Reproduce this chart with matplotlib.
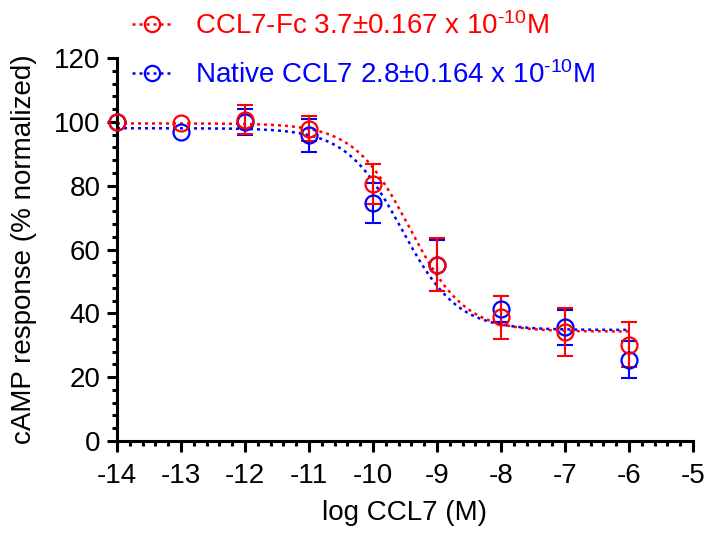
import numpy as np
import matplotlib
matplotlib.use("Agg")
import matplotlib.pyplot as plt
from matplotlib.ticker import AutoMinorLocator

plt.rcParams['font.family'] = ['Liberation Sans', 'DejaVu Sans']
plt.rcParams['mathtext.fontset'] = 'custom'
plt.rcParams['mathtext.rm'] = 'Liberation Sans'
plt.rcParams['mathtext.it'] = 'Liberation Sans:italic'
plt.rcParams['mathtext.bf'] = 'Liberation Sans:bold'
plt.rcParams['axes.unicode_minus'] = False

log_conc = [-14, -13, -12, -11, -10, -9, -8, -7, -6]

fc_mean = [100.0, 99.6, 100.7, 97.9, 80.6, 55.3, 38.7, 34.2, 30.2]
fc_err = [0, 0, 4.5, 3.8, 6.2, 8.4, 6.8, 7.6, 7.1]

nat_mean = [100.0, 96.9, 100.0, 95.8, 74.6, 55.0, 41.4, 35.6, 25.4]
nat_err = [0, 0, 4.0, 5.2, 6.2, 8.0, 4.0, 5.6, 5.8]

# fitted 4PL parameters (top, bottom, logEC50, hill)
fc_fit = dict(top=99.5, bottom=34.3, logec50=np.log10(3.7e-10), hill=1.0)
nat_fit = dict(top=98.0, bottom=34.8, logec50=np.log10(2.8e-10), hill=1.0)

fc_label = r'CCL7-Fc 3.7±0.167 x 10$^{\text{-10}}$M'
nat_label = r'Native CCL7 2.8±0.164 x 10$^{\text{-10}}$M'

xticks = [-14, -13, -12, -11, -10, -9, -8, -7, -6, -5]
yticks = [0, 20, 40, 60, 80, 100, 120]


def four_pl(x, top, bottom, logec50, hill):
    return bottom + (top - bottom) / (1 + 10 ** ((x - logec50) * hill))


fig = plt.figure(figsize=(7.06, 5.33), dpi=100)
ax = fig.add_axes([117 / 706, 1 - 441 / 533, (693 - 117) / 706, (441 - 58) / 533])

xs = np.linspace(-14, -6, 400)
lw_err = 1.5
ls_fit = (0, (1.2, 1.6))
handles = {}
for mean, err, fit, color, key in [
    (nat_mean, nat_err, nat_fit, 'blue', 'nat'),
    (fc_mean, fc_err, fc_fit, 'red', 'fc'),
]:
    x = np.array(log_conc, dtype=float)
    m = np.array(mean)
    e = np.array(err)
    sel = e > 0
    ax.errorbar(x[sel], m[sel], yerr=e[sel], fmt='none', ecolor=color,
                elinewidth=lw_err, capsize=5.6, capthick=lw_err, clip_on=False, zorder=3)
    ax.plot(xs, four_pl(xs, **fit), color=color, lw=1.8, linestyle=ls_fit, zorder=2)
    ax.plot(x, m, 'o', mfc='none', mec=color, ms=11.5, mew=1.6, clip_on=False, zorder=4)
    handles[key], = ax.plot([], [], color=color, lw=1.8, linestyle=ls_fit, marker='o',
                            mfc='none', mec=color, ms=11, mew=1.6)

ax.set_xlim(-14, -5)
ax.set_ylim(0, 120)
ax.set_xticks(xticks)
ax.set_xticklabels([str(t) for t in xticks])
ax.set_yticks(yticks)
ax.xaxis.set_minor_locator(AutoMinorLocator(5))
ax.yaxis.set_minor_locator(AutoMinorLocator(5))

for s in ['top', 'right']:
    ax.spines[s].set_visible(False)
for s in ['left', 'bottom']:
    ax.spines[s].set_linewidth(2.2)

ax.tick_params(which='major', direction='out', length=7, width=2.2, labelsize=20)
ax.tick_params(axis='x', which='major', length=8, pad=8)
ax.tick_params(axis='y', which='major', pad=5)
ax.tick_params(which='minor', direction='out', length=3.5, width=2.2)

ax.set_xlabel('log CCL7 (M)', fontsize=20, labelpad=8)
ax.set_ylabel('cAMP response (% normalized)', fontsize=20, labelpad=12)

leg = ax.legend([handles['fc'], handles['nat']], [fc_label, nat_label],
                loc='upper left', bbox_to_anchor=(124 / 706, 1 - 4 / 533), bbox_transform=fig.transFigure,
                frameon=False, fontsize=20, labelcolor='linecolor', handlelength=1.45,
                handletextpad=0.8, labelspacing=0.75, borderaxespad=0.1, borderpad=0.2)

fig.savefig('out.png', dpi=100)
